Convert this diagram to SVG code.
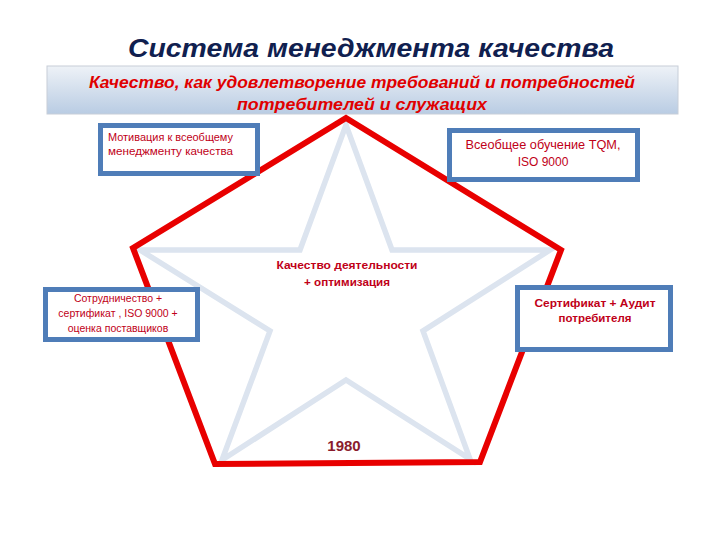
<svg xmlns="http://www.w3.org/2000/svg" width="720" height="540" viewBox="0 0 720 540">
<defs>
<linearGradient id="bannerGrad" x1="0" y1="0" x2="0" y2="1">
<stop offset="0" stop-color="#EEF2F7"/>
<stop offset="1" stop-color="#B9CCE3"/>
</linearGradient>
<style>
.box{fill:#FFFFFF;stroke:#4F7DB8;stroke-width:5}
.boxtxt{font-family:"Liberation Sans","Open Sans",sans-serif;fill:#C00018;text-anchor:middle}
.star{fill:#FFFFFF;stroke:#DCE4EF;stroke-width:5.5;stroke-linejoin:miter}
.pent{fill:none;stroke:#E80000;stroke-width:6;stroke-linejoin:miter}
</style>
</defs>
<rect width="720" height="540" fill="#FFFFFF"/>
<text id="title" x="371" y="57" font-family="'Liberation Sans','Open Sans',sans-serif" font-size="26" font-weight="bold" font-style="italic" fill="#10204F" text-anchor="middle" textLength="486" lengthAdjust="spacingAndGlyphs">Система менеджмента качества</text>
<g id="banner">
<rect x="47" y="66" width="631" height="48" fill="url(#bannerGrad)" stroke="#C7CED8" stroke-width="1"/>
<text x="362" y="88" font-family="'Liberation Sans','Open Sans',sans-serif" font-size="17" font-weight="bold" font-style="italic" fill="#E00000" text-anchor="middle" textLength="546" lengthAdjust="spacingAndGlyphs">Качество, как удовлетворение требований и потребностей</text>
<text x="362" y="110" font-family="'Liberation Sans','Open Sans',sans-serif" font-size="17" font-weight="bold" font-style="italic" fill="#E00000" text-anchor="middle" textLength="250" lengthAdjust="spacingAndGlyphs">потребителей и служащих</text>
</g>
<g id="connectors">
<polygon class="star" points="346,125 392,250 550,250 423,331 470,459 346,380 222,460 270,331 140,250 300,250"/>
<polygon class="pent" points="346,118 561,250 480,462 215,464 133,248"/>
</g>
<g id="center">
<text class="boxtxt" x="347" y="269" font-size="11.5" font-weight="bold" textLength="141" lengthAdjust="spacingAndGlyphs">Качество деятельности</text>
<text class="boxtxt" x="347" y="286" font-size="11.5" font-weight="bold" textLength="86" lengthAdjust="spacingAndGlyphs">+ оптимизация</text>
</g>
<g id="year">
<text x="344" y="451" font-family="'Liberation Sans','Open Sans',sans-serif" font-size="15" font-weight="bold" fill="#8A1C2C" text-anchor="middle">1980</text>
</g>
<g id="node-motivation">
<rect class="box" x="100.5" y="125.5" width="157" height="48"/>
<text class="boxtxt" x="108" y="141" font-size="10.5" style="text-anchor:start" textLength="125" lengthAdjust="spacingAndGlyphs">Мотивация к всеобщему</text>
<text class="boxtxt" x="108" y="155" font-size="10.5" style="text-anchor:start" textLength="125" lengthAdjust="spacingAndGlyphs">менеджменту качества</text>
</g>
<g id="node-tqm">
<rect class="box" x="449.5" y="130.5" width="188" height="49"/>
<text class="boxtxt" x="543" y="149" font-size="12" textLength="155" lengthAdjust="spacingAndGlyphs">Всеобщее обучение TQM,</text>
<text class="boxtxt" x="543" y="166" font-size="12">ISO 9000</text>
</g>
<g id="node-cooperation">
<rect class="box" x="45.5" y="289.5" width="152" height="50"/>
<text class="boxtxt" x="118" y="302" font-size="10.5">Сотрудничество +</text>
<text class="boxtxt" x="118" y="317" font-size="10.5">сертификат  , ISO 9000 +</text>
<text class="boxtxt" x="118" y="332" font-size="10.5">оценка поставщиков</text>
</g>
<g id="node-audit">
<rect class="box" x="517.5" y="287.5" width="153" height="62"/>
<text class="boxtxt" x="595" y="307" font-size="11.5" font-weight="bold" textLength="121" lengthAdjust="spacingAndGlyphs">Сертификат + Аудит</text>
<text class="boxtxt" x="595" y="322" font-size="11.5" font-weight="bold">потребителя</text>
</g>
</svg>
